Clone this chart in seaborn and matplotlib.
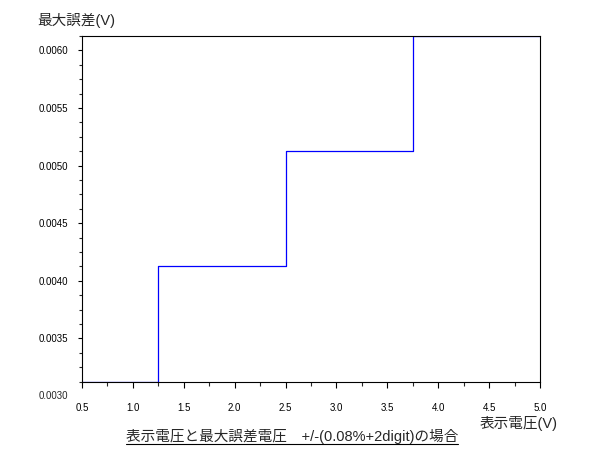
import matplotlib
matplotlib.use('Agg')
import matplotlib.pyplot as plt
import matplotlib.transforms as mtransforms
from matplotlib.lines import Line2D
from matplotlib.ticker import MultipleLocator, FormatStrFormatter
import seaborn as sns
import pandas as pd

# 表示電圧 (V) の区切りと、その区間の最大誤差 (V)
display_voltage = [0.5, 1.25, 2.5, 3.75, 5.0]
max_error = [0.003125, 0.004125, 0.005125, 0.006125, 0.006125]

x_ticks = [0.5, 1.0, 1.5, 2.0, 2.5, 3.0, 3.5, 4.0, 4.5, 5.0]
y_label_extra = 0.0030

title_text = '表示電圧と最大誤差電圧\u3000+/-(0.08%+2digit)の場合'
xlabel_text = '表示電圧(V)'
ylabel_text = '最大誤差(V)'

sns.set_theme(style='ticks')
plt.rcParams['font.family'] = ['Liberation Sans', 'Noto Sans CJK JP', 'DejaVu Sans']
plt.rcParams['axes.edgecolor'] = 'black'
plt.rcParams['axes.linewidth'] = 0.8

df = pd.DataFrame({'V': display_voltage, 'err': max_error})

fig = plt.figure(figsize=(6.1, 4.61), dpi=100)
ax = fig.add_axes([82 / 610, 1 - 381.7 / 461, (540 - 82) / 610, (381.7 - 36) / 461])

sns.lineplot(data=df, x='V', y='err', ax=ax, color='#0000ff', linewidth=0.9,
             drawstyle='steps-post', estimator=None)

ax.set_xlim(min(display_voltage), max(display_voltage))
ax.set_ylim(min(max_error), max(max_error))

ax.set_xticks(x_ticks)
ax.xaxis.set_minor_locator(MultipleLocator(0.25))
ax.yaxis.set_major_locator(MultipleLocator(0.0005))
ax.yaxis.set_minor_locator(MultipleLocator(0.000125))
ax.xaxis.set_major_formatter(FormatStrFormatter('%.1f'))
ax.yaxis.set_major_formatter(FormatStrFormatter('%.4f'))

ax.tick_params(axis='x', which='major', length=4.1, width=0.8, pad=11, labelsize=7, colors='black')
ax.tick_params(axis='x', which='minor', length=2.9, width=0.8)
ax.tick_params(axis='y', which='major', length=2.9, width=0.8, pad=7, labelsize=7, colors='black')
ax.tick_params(axis='y', which='minor', length=2.2, width=0.8)

for s in ['top', 'right', 'left', 'bottom']:
    ax.spines[s].set_visible(True)
    ax.spines[s].set_color('black')

ax.set_xlabel('')
ax.set_ylabel('')

# 軸範囲外の 0.0030 ラベル
trans = mtransforms.blended_transform_factory(ax.transAxes, ax.transData)
ax.annotate(f'{y_label_extra:.4f}', xy=(0, y_label_extra), xycoords=trans,
            xytext=(-10, 0), textcoords='offset points', ha='right', va='center',
            fontsize=7, annotation_clip=False)

fig.text(37 / 610, 1 - 21 / 461, ylabel_text, ha='left', va='center', fontsize=10.5)
fig.text(558 / 610, 1 - 423 / 461, xlabel_text, ha='right', va='center', fontsize=10.5)
t = fig.text(292 / 610, 1 - 436 / 461, title_text, ha='center', va='center', fontsize=10.5)

fig.canvas.draw()
bb = t.get_window_extent().transformed(fig.transFigure.inverted())
fig.add_artist(Line2D([bb.x0, bb.x1], [1 - 444 / 461] * 2, transform=fig.transFigure,
                      color='black', linewidth=0.8))

fig.savefig('out.png', dpi=100, facecolor='white')
